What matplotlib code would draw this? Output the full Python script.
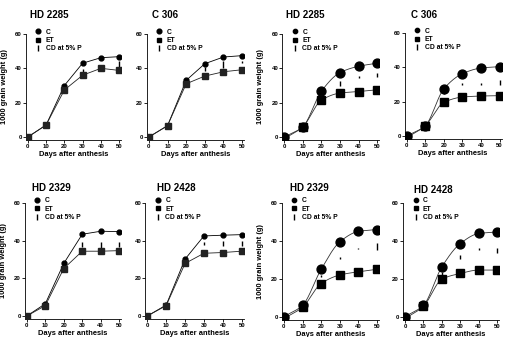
import numpy as np
import matplotlib
matplotlib.use('Agg')
import matplotlib.pyplot as plt
from matplotlib.lines import Line2D

plt.rcParams['font.family'] = ['Liberation Sans', 'DejaVu Sans']
plt.rcParams['font.weight'] = 'bold'
plt.rcParams['axes.labelweight'] = 'bold'

days = [0, 10, 20, 30, 40, 50]

titles = ['HD 2285', 'C 306', 'HD 2285', 'C 306',
          'HD 2329', 'HD 2428', 'HD 2329', 'HD 2428']

# control (C) and elevated temperature (ET), 1000 grain weight (g)
c_hd2285_a = [0, 7, 30, 43, 46.2, 46.8]
et_hd2285_a = [0, 7, 27.4, 36, 40, 38.8]
c_c306_a = [0, 6.6, 33, 42.7, 46.6, 47.4]
et_c306_a = [0, 6.6, 31, 35.5, 38, 39.2]
c_hd2285_b = [0, 6, 26.7, 37.5, 41.2, 43]
et_hd2285_b = [-1, 6, 21.5, 25.6, 26.5, 27.5]
c_c306_b = [0, 6, 27.5, 36.3, 39.6, 40.4]
et_c306_b = [-1, 6, 19.6, 22.7, 23.3, 23.5]
c_hd2329_a = [0, 6.5, 27.9, 43.4, 45, 44.8]
et_hd2329_a = [0, 5.5, 25.2, 34.4, 34.4, 34.7]
c_hd2428_a = [0, 5.8, 30.2, 42.5, 42.9, 43.2]
et_hd2428_a = [0, 5.5, 27.9, 33.3, 33.7, 34.4]
c_hd2329_b = [0, 6, 25, 39.5, 45, 46]
et_hd2329_b = [-1, 5, 17.5, 22, 23.7, 25]
c_hd2428_b = [0, 6, 26.3, 38.6, 43.9, 44.7]
et_hd2428_b = [-1, 5.5, 19.8, 22.8, 24.6, 24.6]

# CD at 5% P bars: day, middle of bar, length of bar
cd_days_a = [30, 40, 50]
cd_days_b = [20, 30, 40, 50]
cd_mid_hd2285_a = [38.5, 41.5, 42.5]
cd_len_hd2285_a = [2, 1, 3]
cd_mid_c306_a = [39.5, 42, 43.5]
cd_len_c306_a = [2, 4, 1]
cd_mid_hd2285_b = [31, 35, 36]
cd_len_hd2285_b = [3, 1.5, 2]
cd_mid_c306_b = [25, 30.5, 30.5, 31]
cd_len_c306_b = [1, 1, 1, 3]
cd_mid_hd2329_a = [38, 37.5, 38]
cd_len_hd2329_a = [3, 3.5, 3]
cd_mid_hd2428_a = [38.5, 38.5, 38.5]
cd_len_hd2428_a = [1.8, 3, 2.8]
cd_mid_hd2329_b = [21.3, 31, 36, 37.2]
cd_len_hd2329_b = [1, 1, 1, 3.6]
cd_mid_hd2428_b = [23, 31.4, 35.8, 35]
cd_len_hd2428_b = [1.5, 2, 1, 2.3]

panels = [
    (c_hd2285_a, et_hd2285_a, cd_days_a, cd_mid_hd2285_a, cd_len_hd2285_a, False),
    (c_c306_a, et_c306_a, cd_days_a, cd_mid_c306_a, cd_len_c306_a, False),
    (c_hd2285_b, et_hd2285_b, cd_days_a, cd_mid_hd2285_b, cd_len_hd2285_b, True),
    (c_c306_b, et_c306_b, cd_days_b, cd_mid_c306_b, cd_len_c306_b, True),
    (c_hd2329_a, et_hd2329_a, cd_days_a, cd_mid_hd2329_a, cd_len_hd2329_a, False),
    (c_hd2428_a, et_hd2428_a, cd_days_a, cd_mid_hd2428_a, cd_len_hd2428_a, False),
    (c_hd2329_b, et_hd2329_b, cd_days_b, cd_mid_hd2329_b, cd_len_hd2329_b, True),
    (c_hd2428_b, et_hd2428_b, cd_days_b, cd_mid_hd2428_b, cd_len_hd2428_b, True),
]


def smooth_curve(x, y, n=200):
    # monotone cubic (Fritsch-Carlson) for a smooth growth curve
    x = np.asarray(x, float)
    y = np.asarray(y, float)
    h = np.diff(x)
    d = np.diff(y) / h
    m = np.zeros_like(y)
    m[0], m[-1] = d[0], d[-1]
    for k in range(1, len(x) - 1):
        if d[k - 1] * d[k] <= 0:
            m[k] = 0
        else:
            w1 = 2 * h[k] + h[k - 1]
            w2 = h[k] + 2 * h[k - 1]
            m[k] = (w1 + w2) / (w1 / d[k - 1] + w2 / d[k])
    xx = np.linspace(x[0], x[-1], n)
    idx = np.clip(np.searchsorted(x, xx) - 1, 0, len(x) - 2)
    t = (xx - x[idx]) / h[idx]
    h00 = 2 * t**3 - 3 * t**2 + 1
    h10 = t**3 - 2 * t**2 + t
    h01 = -2 * t**3 + 3 * t**2
    h11 = t**3 - t**2
    yy = (h00 * y[idx] + h10 * h[idx] * m[idx]
          + h01 * y[idx + 1] + h11 * h[idx] * m[idx + 1])
    return xx, yy


W, H = 511, 337
# axes boxes in pixels: left, right, top(y=60), bottom
boxes = [(26, 121, 34, 139.6), (147, 244, 34, 139.6),
         (282.4, 379, 34, 139.6), (404.8, 501.5, 33, 138.6),
         (25, 121, 203, 318.8), (145.4, 243.6, 203, 318.8),
         (282, 379, 203, 319.5), (403.2, 499, 203, 319.5)]
# title centres in pixels
title_pos = [(49, 15), (165, 15), (305, 15), (424, 15),
             (51, 188), (176, 188), (309, 188), (433, 190)]

fig = plt.figure(figsize=(W / 100, H / 100), dpi=100)

for i, (c, et, cdx, cdm, cdl, fitted) in enumerate(panels):
    l, r, t, b = boxes[i]
    ax = fig.add_axes([l / W, 1 - b / H, (r - l) / W, (b - t) / H])
    x = np.array(days, dtype=float)
    if fitted:
        for y in (c, et):
            xx, yy = smooth_curve(x, y)
            ax.plot(xx, yy, color='#333333', lw=0.6)
        ax.plot(x, c, 'o', color='black', ms=6.4, zorder=3)
        ax.plot(x, et, 's', color='black', ms=6.2, zorder=3)
    else:
        ax.plot(x, c, 'o-', color='black', ms=3.5, lw=0.6, zorder=3)
        ax.plot(x, et, 's-', color='#222222', ms=3.9, lw=0.6, zorder=3)
    lo = np.array(cdm) - np.array(cdl) / 2
    hi = np.array(cdm) + np.array(cdl) / 2
    ax.vlines(cdx, lo, hi, color='black', lw=1.0)

    ax.set_xlim(-1, 51)
    ax.set_ylim(-1.5, 60)
    ax.set_xticks(days)
    ax.set_yticks([0, 20, 40, 60])
    for s in ('top', 'right'):
        ax.spines[s].set_visible(False)
    for s in ('left', 'bottom'):
        ax.spines[s].set_linewidth(0.6)
    ax.tick_params(length=2, width=0.6, labelsize=4.3, pad=1)
    ax.set_xlabel('Days after anthesis', fontsize=5.4, labelpad=1.5)
    if i in (0, 2, 4, 6):
        ax.set_ylabel('1000 grain weight (g)', fontsize=5.4)
        ax.yaxis.set_label_coords(-0.19, 0.5)

    ms_leg = 3.4 if not fitted else 3.1
    handles = [Line2D([], [], marker='o', ls='none', color='black', ms=ms_leg),
               Line2D([], [], marker='s', ls='none', color='black', ms=ms_leg),
               Line2D([], [], marker='|', ls='none', color='black', ms=4, mew=1.0)]
    ax.legend(handles, ['C', 'ET', 'CD at 5% P'], loc='upper left',
              bbox_to_anchor=(0.1, 1.05), frameon=False, fontsize=4.9,
              handlelength=0.8, handletextpad=0.7, labelspacing=0.2,
              borderaxespad=0, borderpad=0)

    tx, ty = title_pos[i]
    fig.text(tx / W, 1 - ty / H, titles[i], ha='center', va='center',
             fontsize=7, fontweight='bold')

fig.savefig('out.png', dpi=100)
